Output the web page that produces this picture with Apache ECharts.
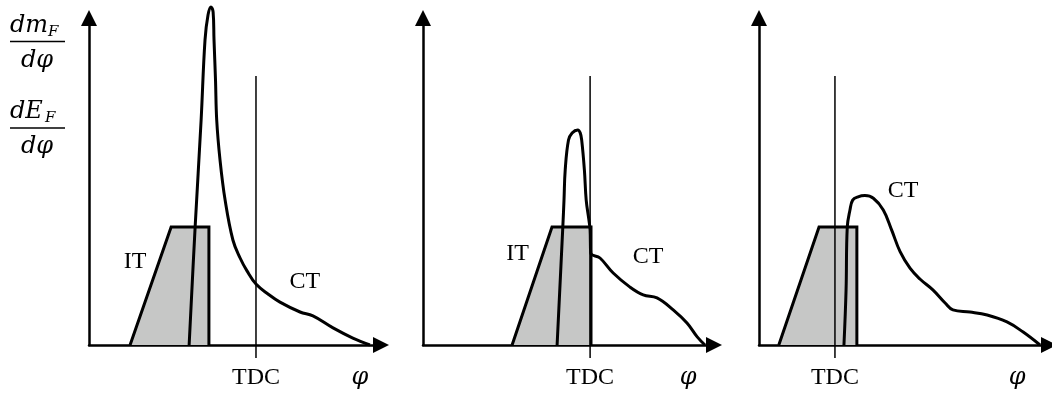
<!DOCTYPE html>
<html>
<head>
<meta charset="utf-8">
<script src="https://cdn.jsdelivr.net/npm/echarts@6/dist/echarts.min.js"></script>
<style>
  html, body { margin: 0; padding: 0; background: #fff; }
  #chart { width: 1052px; height: 396px; }
</style>
</head>
<body>
<div id="chart"></div>
<script>
// Crank angle relative to TDC [deg] vs. rate (arbitrary units).

// Injection rate (IT) — trapezoidal profiles
const injection1 = [[-42, 0], [-28.3, 39.3], [-15.7, 39.3], [-15.7, 0]];
const injection2 = [[-26, 0], [-12.7, 39.3], [0.3, 39.3], [0.3, 0]];
const injection3 = [[-18.7, 0], [-5.3, 39.3], [7.3, 39.3], [7.3, 0]];

// Combustion rate (CT)
const combustion1 = [
  [-22.3, 0], [-20.3, 39.3], [-18.3, 75], [-17, 101.7], [-16, 110], [-15, 112.7],
  [-14.3, 111], [-14, 101.7], [-13.5, 88.3], [-13.1, 75], [-12, 61.7], [-10.3, 48.3],
  [-7.7, 35], [-5.3, 29], [-3, 24.7], [0, 20.3], [4, 17], [8, 14.3], [14.7, 11],
  [19, 9.7], [25.7, 5.7], [32.3, 2.3], [38, 0]
];
const combustion2 = [
  [-11, 0], [-9.1, 39.3], [-8.7, 48.3], [-8.3, 58.3], [-7.2, 68.3], [-6, 70.7],
  [-4.1, 71.7], [-3.3, 70.7], [-2.8, 68.3], [-1.9, 58.3], [-1.3, 48.3], [-0.4, 41.7],
  [0, 38.3], [0.2, 30.7], [3.3, 29], [7.7, 24], [13.3, 19.3], [17.7, 16.7],
  [22.3, 15.7], [27.7, 11.7], [32.3, 7.3], [35.7, 2.7], [38.3, 0]
];
const combustion3 = [
  [3, 0], [3.7, 18.3], [4.1, 39.3], [5, 45], [5.9, 48.3], [7.7, 49.4], [10, 49.8],
  [12.8, 48.9], [16.1, 45], [18.9, 38.3], [21.7, 31.1], [25, 25.6], [28.3, 22],
  [32.7, 18.3], [36.7, 14], [39.3, 11.7], [45, 11], [50.7, 10], [57.3, 7.7],
  [62.7, 4.3], [68.3, 0]
];

// TDC marker
const tdcMarker = [[0, -4.3], [0, 89.7]];

// Tick labels on the crank-angle axis
const tdcLabel = 'TDC';
const angleLabel = 'φ';
const injectionLabel = 'IT';
const combustionLabel = 'CT';

const INK = '#000';
const FILL = '#c6c7c6';
const SERIF = "'Liberation Serif', 'DejaVu Serif', serif";
const MATH = "'DejaVu Serif', 'Liberation Serif', serif";

// Panel layout (pixels) and axis extents
const panels = [
  { left: 89,  width: 292, min: -55.7, max: 41.7, angleAt: 34.7,
    injection: injection1, combustion: combustion1,
    notes: [{ name: injectionLabel, value: [-40.3, 27.7] }, { name: combustionLabel, value: [16.3, 21] }] },
  { left: 423, width: 291, min: -55.7, max: 41.3, angleAt: 32.7,
    injection: injection2, combustion: combustion2,
    notes: [{ name: injectionLabel, value: [-24.2, 30.3] }, { name: combustionLabel, value: [19.3, 29.3] }] },
  { left: 759, width: 290, min: -25.3, max: 71.3, angleAt: 60.7,
    injection: injection3, combustion: combustion3,
    notes: [{ name: combustionLabel, value: [22.7, 51.3] }] }
];

const Y_MAX = 109;

const grid = panels.map(p => ({ left: p.left, width: p.width, top: 18, bottom: 51, outerBoundsMode: 'none' }));

const axisLine = {
  show: true,
  onZero: false,
  symbol: ['none', 'triangle'],
  symbolSize: [16, 16],
  lineStyle: { color: INK, width: 2.5 }
};

const xAxis = panels.map((p, i) => ({
  type: 'value', gridIndex: i, min: p.min, max: p.max,
  splitLine: { show: false }, axisTick: { show: false },
  axisLine: axisLine,
  axisLabel: {
    show: true,
    customValues: [0, p.angleAt],
    margin: 21,
    formatter: v => (v === 0 ? '{t|' + tdcLabel + '}' : '{p|' + angleLabel + '}'),
    rich: {
      t: { fontFamily: SERIF, fontSize: 24, color: INK },
      p: { fontFamily: MATH, fontSize: 24, fontStyle: 'italic', color: INK }
    }
  }
}));

const yAxis = panels.map((p, i) => ({
  type: 'value', gridIndex: i, min: 0, max: Y_MAX,
  splitLine: { show: false }, axisTick: { show: false }, axisLabel: { show: false },
  axisLine: axisLine
}));

const series = [];
panels.forEach((p, i) => {
  series.push({
    type: 'line', xAxisIndex: i, yAxisIndex: i, data: p.injection,
    symbol: 'none', z: 2, silent: true,
    lineStyle: { color: INK, width: 3, join: 'miter' },
    areaStyle: { color: FILL, opacity: 1 }
  });
  series.push({
    type: 'line', xAxisIndex: i, yAxisIndex: i, data: tdcMarker,
    symbol: 'none', z: 3, clip: false, silent: true,
    lineStyle: { color: INK, width: 1.5 }
  });
  series.push({
    type: 'line', xAxisIndex: i, yAxisIndex: i, data: p.combustion,
    symbol: 'none', z: 4, clip: false, silent: true, smooth: 0.4,
    lineStyle: { color: INK, width: 3 }
  });
  series.push({
    type: 'scatter', xAxisIndex: i, yAxisIndex: i, data: p.notes,
    symbolSize: 0, z: 5, silent: true,
    itemStyle: { opacity: 1 },
    label: {
      show: true, position: 'inside', formatter: '{b}',
      fontFamily: SERIF, fontSize: 24, color: INK
    }
  });
});

// Ordinate name: dm_F/dφ and dE_F/dφ as stacked fractions
function fraction(barY, main, subX) {
  const it = { fontFamily: MATH, fontStyle: 'italic', fill: INK };
  return [
    { type: 'text', x: 10, y: barY - 28, style: Object.assign({ text: main, fontSize: 24 }, it) },
    { type: 'text', x: subX, y: barY - 17, style: Object.assign({ text: 'F', fontSize: 15 }, it) },
    { type: 'rect', shape: { x: 10, y: barY - 0.75, width: 55, height: 1.5 }, style: { fill: INK } },
    { type: 'text', x: 37, y: barY + 7, style: Object.assign({ text: 'dφ', fontSize: 24, align: 'center' }, it) }
  ];
}

const chart = echarts.init(document.getElementById('chart'), null, { renderer: 'canvas' });
chart.setOption({
  animation: false,
  backgroundColor: '#fff',
  grid, xAxis, yAxis, series,
  graphic: [].concat(fraction(41.5, 'dm', 48), fraction(128, 'dE', 45))
});
</script>
</body>
</html>
